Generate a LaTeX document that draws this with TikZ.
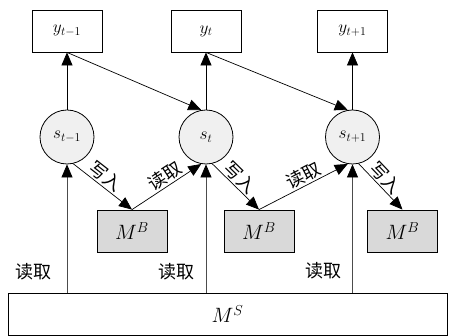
\documentclass[tikz,border=0pt]{standalone}
\usepackage{fontspec}
\newfontfamily\cjk{Noto Sans CJK SC}
\usetikzlibrary{arrows.meta}
\begin{document}
\begin{tikzpicture}[x=1pt,y=-1pt,
  outbox/.style={draw,line width=0.8pt,minimum width=70pt,minimum height=42pt,inner sep=0pt,font=\fontsize{18}{20}\selectfont},
  membox/.style={draw,line width=0.8pt,fill=gray!30,minimum width=70pt,minimum height=42pt,inner sep=0pt,font=\fontsize{20}{22}\selectfont},
  state/.style={circle,draw,line width=0.8pt,fill=gray!12,minimum size=54pt,inner sep=0pt,font=\fontsize{18}{20}\selectfont},
  arr/.style={line width=0.7pt,-{Triangle[length=13pt,width=11pt,color=black]}},
  varr/.style={arr,draw=black!70},
  lbl/.style={font=\cjk\fontsize{18}{20}\selectfont,inner sep=0.5pt},
]
\useasboundingbox (0,0) rectangle (450,336);
\node[outbox] (y1) at (67,31) {$y_{t-1}$};
\node[outbox] (y2) at (206,31) {$y_{t}$};
\node[outbox] (y3) at (352.5,31) {$y_{t+1}$};
\node[state] (s1) at (67,137) {$s_{t-1}$};
\node[state] (s2) at (206,137) {$s_{t}$};
\node[state] (s3) at (352.5,137) {$s_{t+1}$};
\node[membox] (b1) at (132,231) {$M^{B}$};
\node[membox] (b2) at (259,231) {$M^{B}$};
\node[membox] (b3) at (402.5,231) {$M^{B}$};
\node[draw,line width=0.8pt,minimum width=439pt,minimum height=42pt,inner sep=0pt,font=\fontsize{20}{22}\selectfont] (ms) at (227.5,314) {$M^{S}$};
% vertical reads from M^S
\draw[varr] (s1.south |- ms.north) -- (s1.south);
\draw[varr] (s2.south |- ms.north) -- (s2.south);
\draw[varr] (s3.south |- ms.north) -- (s3.south);
\node[lbl] (r1) at (33.5,272) {读取};
\node[lbl] (r2) at (176,272) {读取};
\node[lbl] (r3) at (323,271) {读取};
% outputs
\draw[arr] (s1.north) -- (y1.south);
\draw[arr] (s2.north) -- (y2.south);
\draw[arr] (s3.north) -- (y3.south);
\draw[arr] (y1.south) -- (s2.100);
\draw[arr] (y2.south) -- (s3.100);
% write/read buffer
\draw[arr] (s1.-77) -- node[lbl,sloped,above=1pt,pos=0.45] {写入} (b1.north);
\draw[arr] (b1.north) -- node[lbl,sloped,above=1pt,pos=0.55] {读取} (s2.-100);
\draw[arr] (s2.-77) -- node[lbl,sloped,above=1pt,pos=0.45] {写入} (b2.north);
\draw[arr] (b2.north) -- node[lbl,sloped,above=1pt,pos=0.55] {读取} (s3.-100);
\draw[arr] (s3.-77) -- node[lbl,sloped,above=1pt,pos=0.45] {写入} (b3.north);
\end{tikzpicture}
\end{document}
